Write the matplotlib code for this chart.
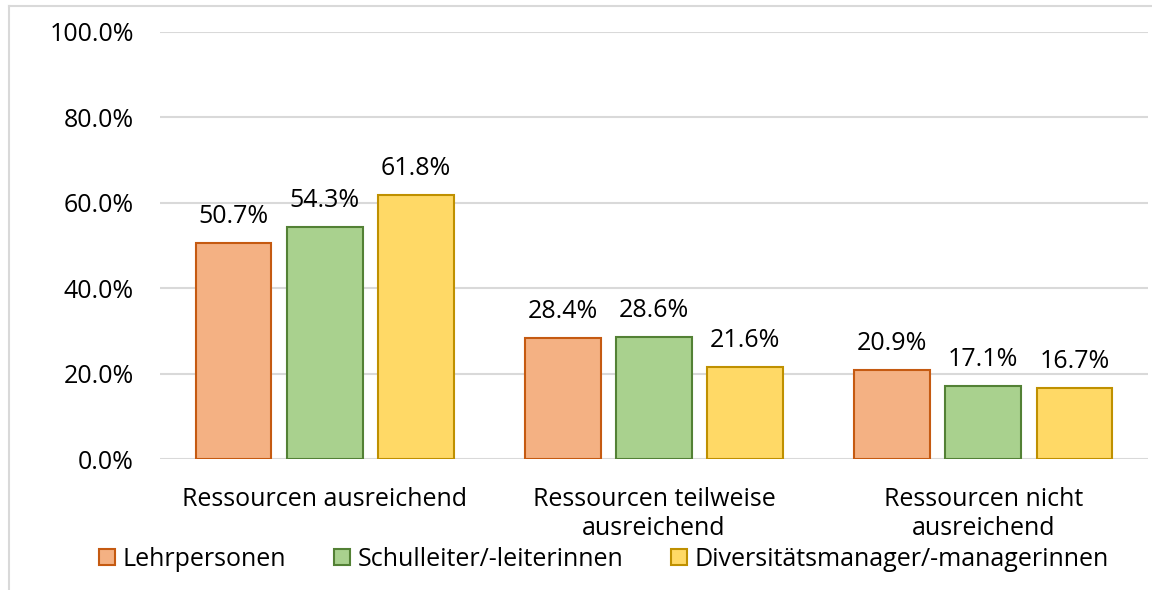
import matplotlib
matplotlib.use("Agg")
import matplotlib.pyplot as plt
import numpy as np
from matplotlib.lines import Line2D
from matplotlib.patches import Patch

categories = ["Ressourcen ausreichend", "Ressourcen teilweise\nausreichend", "Ressourcen nicht\nausreichend"]
series_names = ["Lehrpersonen", "Schulleiter/-leiterinnen", "Diversitätsmanager/-managerinnen"]
lehrpersonen = [50.7, 28.4, 20.9]
schulleiter = [54.3, 28.6, 17.1]
diversitaet = [61.8, 21.6, 16.7]
yticks = [0, 20, 40, 60, 80, 100]

fills = ["#F4B183", "#A9D18E", "#FFD966"]
edges = ["#C55A11", "#538135", "#BF9000"]

plt.rcParams["font.family"] = ["Open Sans", "DejaVu Sans"]
FS = 18

fig = plt.figure(figsize=(11.52, 5.90), dpi=100)
ax = fig.add_axes([0.139, 0.222, 0.8575, 0.7238])

x = np.arange(len(categories))
width = 0.23
offsets = [-0.277, 0.0, 0.277]
for vals, off, fc, ec, name in zip([lehrpersonen, schulleiter, diversitaet], offsets, fills, edges, series_names):
    bars = ax.bar(x + off, vals, width, color=fc, edgecolor=ec, linewidth=1.5, label=name, zorder=3)
    for b, v in zip(bars, vals):
        ax.annotate(f"{v:.1f}%", (b.get_x() + b.get_width() / 2, v), xytext=(0, 14.4),
                    textcoords="offset points", ha="center", va="baseline",
                    fontsize=FS, color="#000000")

ax.set_xlim(-0.5, 2.5)
ax.set_ylim(0, 100)
ax.set_yticks(yticks)
ax.set_yticklabels([f"{t:.1f}%" for t in yticks], fontsize=FS)
ax.set_xticks(x)
ax.set_xticklabels(categories, fontsize=FS, linespacing=1.2)
ax.tick_params(axis="x", length=0, pad=20)
ax.tick_params(axis="y", length=0, pad=19)
ax.grid(axis="y", color="#D9D9D9", linewidth=1.5, zorder=0)
for s in ax.spines.values():
    s.set_visible(False)

handles = [Patch(facecolor=fc, edgecolor=ec, linewidth=1.5) for fc, ec in zip(fills, edges)]
fig.legend(handles, series_names, loc="center", bbox_to_anchor=(0.524, 0.052), ncol=3, frameon=False,
           fontsize=FS, handlelength=0.65, handleheight=0.65, handletextpad=0.3, columnspacing=1.9,
           borderaxespad=0, borderpad=0)

# chart frame (left and top edges)
fig.add_artist(Line2D([0.0075, 0.0075], [0.0, 0.99], transform=fig.transFigure, color="#D9D9D9", linewidth=1.5))
fig.add_artist(Line2D([0.0075, 1.0], [0.99, 0.99], transform=fig.transFigure, color="#D9D9D9", linewidth=1.5))

fig.savefig("out.png", dpi=100, facecolor="white")
